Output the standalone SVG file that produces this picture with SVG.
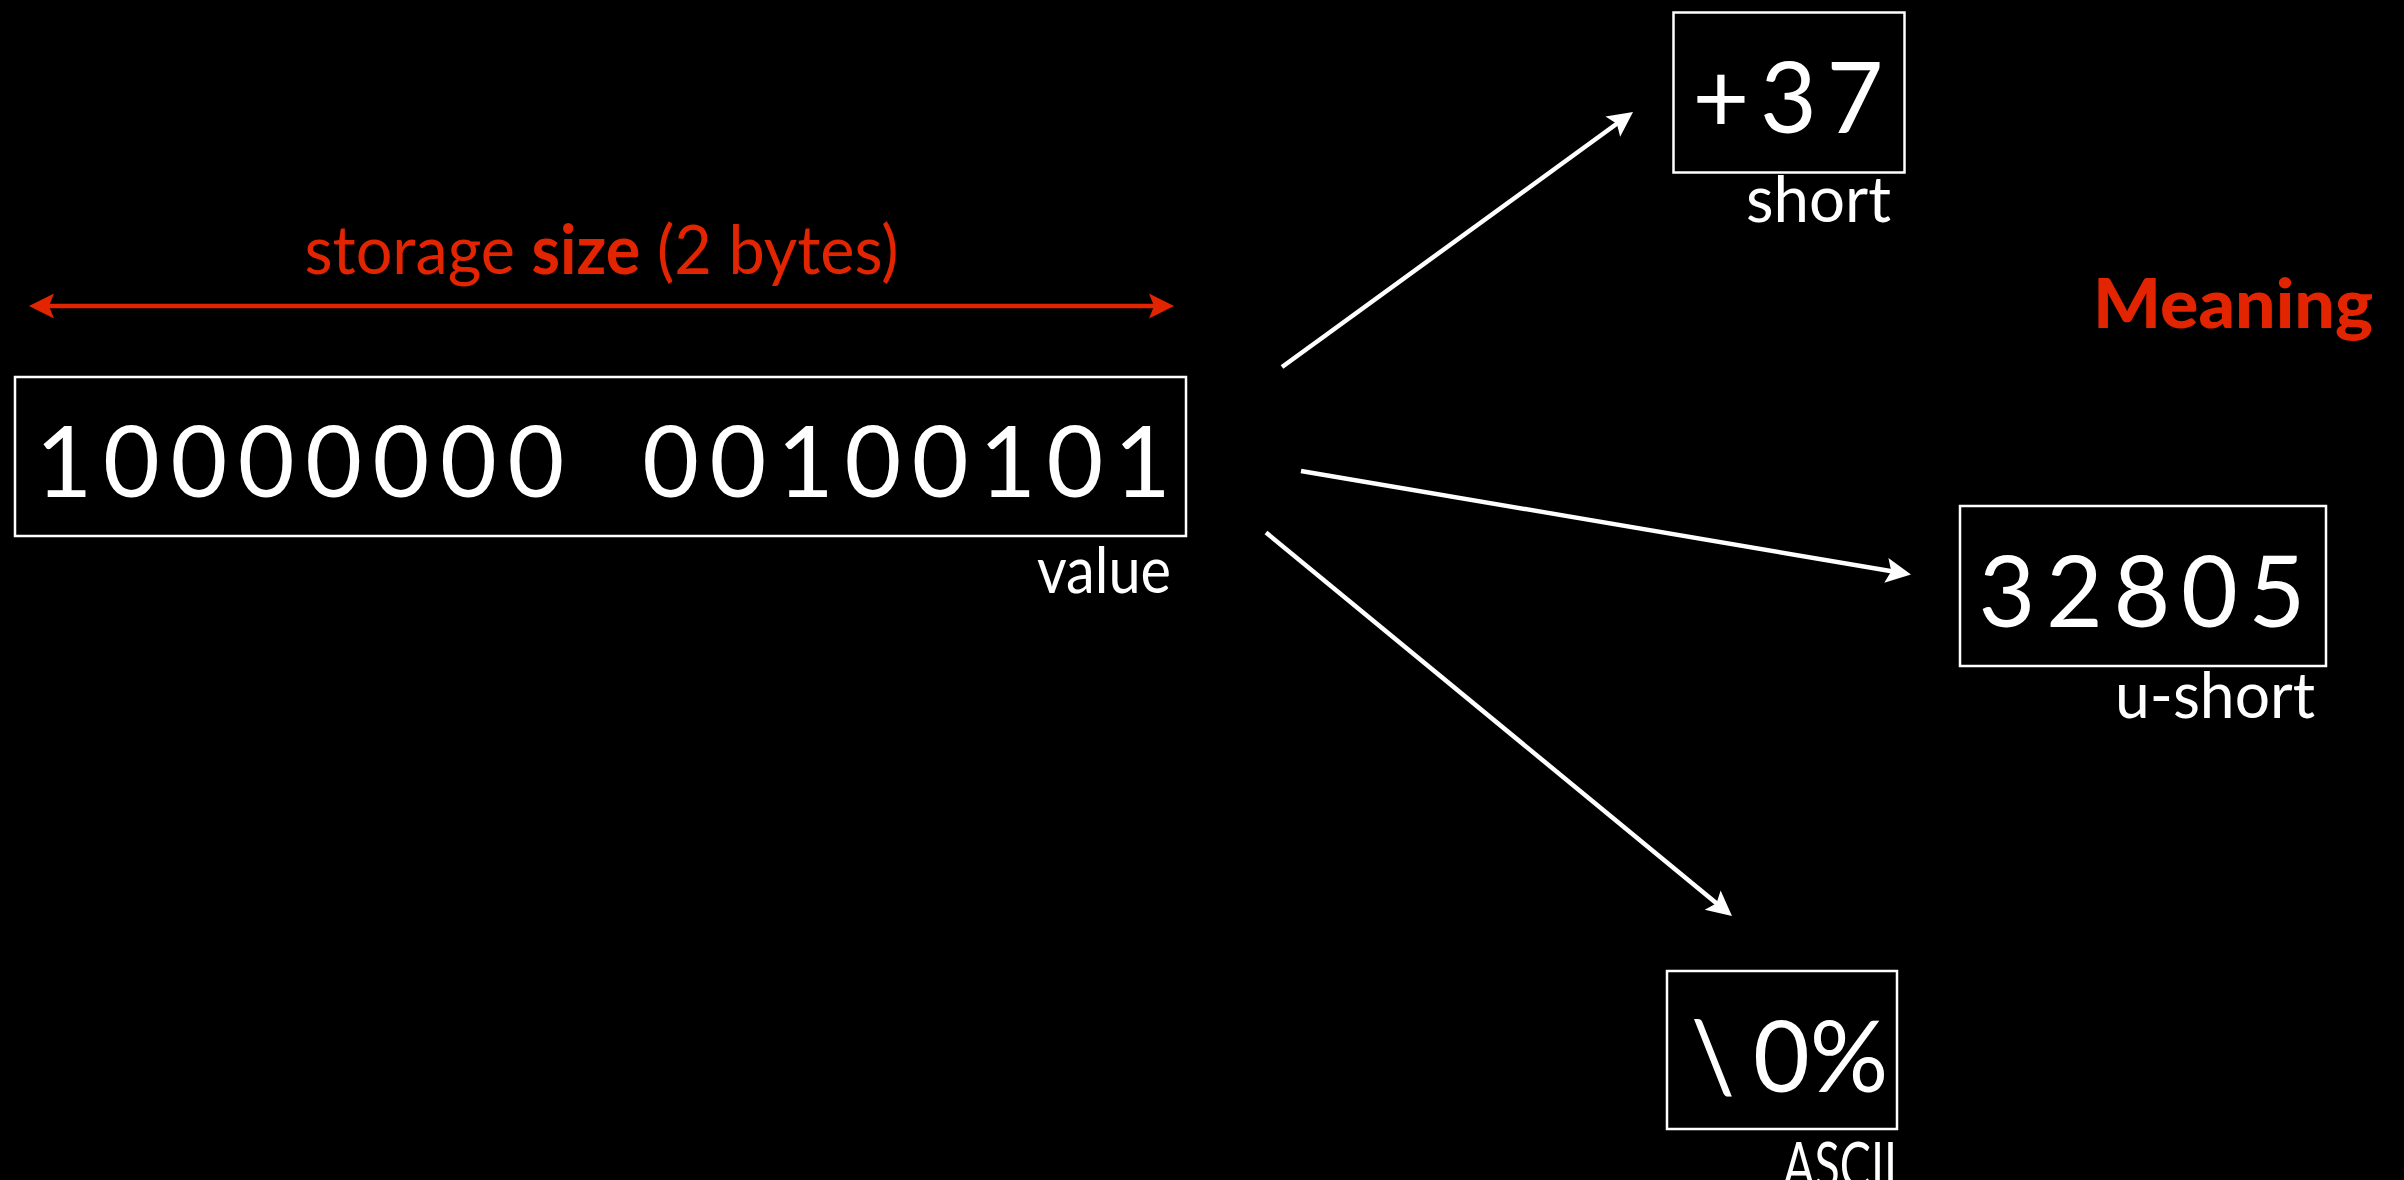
<svg xmlns="http://www.w3.org/2000/svg" width="2404" height="1180" viewBox="0 0 2404 1180">
  <style>
    .box { fill: #000; stroke: #fff; stroke-width: 2.5; }
    .digits { font-family: Lato, "Open Sans", sans-serif; font-size: 98px; fill: #fff; text-anchor: middle; }
    .label { font-family: Lato, "Open Sans", sans-serif; font-size: 64px; fill: #fff; text-anchor: end; }
    .redtext { font-family: Lato, "Open Sans", sans-serif; font-size: 68px; fill: #E22400; text-anchor: middle; }
    .meaning { font-family: Lato, "Open Sans", sans-serif; font-size: 68px; font-weight: 900; fill: #E22400; text-anchor: end; }
    .conn { stroke: #fff; stroke-width: 4.5; fill: none; marker-end: url(#whiteHead); }
    .size { stroke: #E22400; stroke-width: 4.5; fill: none; marker-start: url(#redHead); marker-end: url(#redHead); }
  </style>
  <defs>
    <marker id="whiteHead" markerUnits="userSpaceOnUse" markerWidth="26" markerHeight="26" refX="10" refY="12.5" orient="auto" overflow="visible">
      <path d="M25,12.5 L0,0 L5,12.5 L0,25 Z" fill="#fff"/>
    </marker>
    <marker id="redHead" markerUnits="userSpaceOnUse" markerWidth="26" markerHeight="26" refX="10" refY="12.5" orient="auto-start-reverse" overflow="visible">
      <path d="M25,12.5 L0,0 L5,12.5 L0,25 Z" fill="#E22400"/>
    </marker>
  </defs>
  <rect x="0" y="0" width="2404" height="1180" fill="#000"/>

  <g id="size-annotation">
    <text class="redtext" x="601.5" y="274" textLength="594" lengthAdjust="spacingAndGlyphs">storage <tspan font-weight="bold">size</tspan> (2 bytes)</text>
    <path class="size" d="M44,306 L1159,306"/>
  </g>

  <g id="value">
    <rect class="box" x="15" y="377" width="1171" height="159"/>
    <text class="digits" x="64 131.4 198.8 266.2 333.6 401 468.4 535.8 603.2 670.6 738 805.4 872.8 940.2 1007.6 1075 1142.4" y="497">10000000 00100101</text>
    <text class="label" x="1171" y="593" textLength="134" lengthAdjust="spacingAndGlyphs">value</text>
  </g>

  <g id="short">
    <rect class="box" x="1673.5" y="12.5" width="231" height="160"/>
    <text class="digits" x="1721 1788.5 1855" y="133">+37</text>
    <text class="label" x="1891" y="222" textLength="145" lengthAdjust="spacingAndGlyphs">short</text>
  </g>

  <g id="meaning">
    <text class="meaning" x="2373" y="328" textLength="280" lengthAdjust="spacingAndGlyphs">Meaning</text>
  </g>

  <g id="u-short">
    <rect class="box" x="1960" y="506" width="366" height="160"/>
    <text class="digits" x="2007 2074.5 2142 2209.5 2277" y="627">32805</text>
    <text class="label" x="2315" y="718" textLength="200" lengthAdjust="spacingAndGlyphs">u-short</text>
  </g>

  <g id="ascii">
    <rect class="box" x="1667" y="971" width="230" height="158"/>
    <text class="digits" x="1713 1781.5 1849" y="1092">\0%</text>
    <text class="label" x="1897" y="1188" textLength="114" lengthAdjust="spacingAndGlyphs">ASCII</text>
  </g>

  <g id="connectors">
    <path class="conn" d="M1282,367 L1620.9,120.8"/>
    <path class="conn" d="M1301,471 L1896.2,572"/>
    <path class="conn" d="M1266,532.5 L1720.4,906.5"/>
  </g>
</svg>
